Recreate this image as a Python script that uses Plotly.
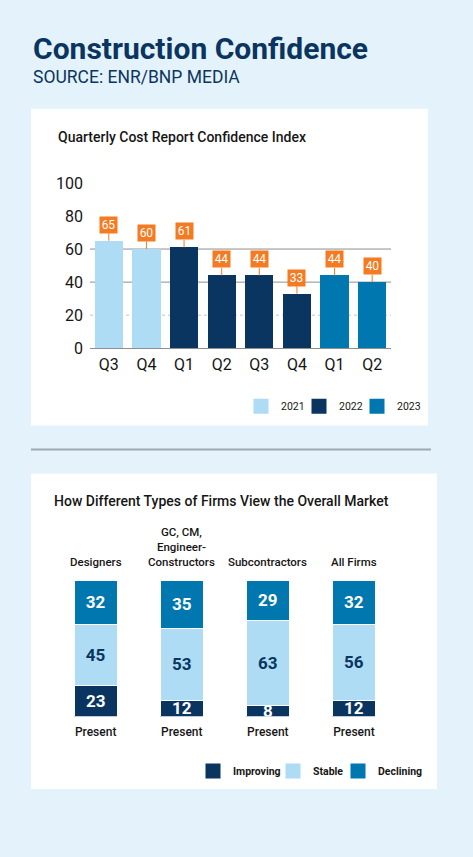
import plotly.graph_objects as go

W, H = 473, 857

# ---------------- data ----------------
quarters = ["Q3", "Q4", "Q1", "Q2", "Q3", "Q4", "Q1", "Q2"]
quarter_years = ["2021", "2021", "2022", "2022", "2022", "2022", "2023", "2023"]
index_values = [65, 60, 61, 44, 44, 33, 44, 40]
year_names = ["2021", "2022", "2023"]
y_ticks = [0, 20, 40, 60, 80, 100]

firm_types = ["Designers", "GC, CM,<br>Engineer-<br>Constructors", "Subcontractors", "All Firms"]
period_labels = ["Present", "Present", "Present", "Present"]
improving = [23, 12, 8, 12]
stable = [45, 53, 63, 56]
declining = [32, 35, 29, 32]
outlook_names = ["Improving", "Stable", "Declining"]

# ---------------- style ----------------
BG = "#E4F3FB"
NAVY = "#0B3561"
LIGHT = "#AEDCF4"
MID = "#0077AE"
ORANGE = "#F47B22"
FONT = "Roboto, 'Open Sans', sans-serif"
year_colors = {"2021": LIGHT, "2022": NAVY, "2023": MID}
outlook_colors = {"Improving": NAVY, "Stable": LIGHT, "Declining": MID}
outlook_text = {"Improving": "white", "Stable": NAVY, "Declining": "white"}
# one legend per entry so each key can be placed on its own (left edge in px)
year_legends = {"2021": ("legend", 241), "2022": ("legend3", 299), "2023": ("legend4", 357)}
outlook_legends = {"Improving": ("legend2", 193), "Stable": ("legend5", 273), "Declining": ("legend6", 338)}

# vertical calibration of the captured page
V_SCALE, V_OFF = 0.976, 9.4


def px_x(x):
    return x / W


def px_y(y):
    return 1 - ((y - V_OFF) / V_SCALE) / H


fig = go.Figure()

# ---- chart 1: quarterly index ----
for yr in year_names:
    idx = [i for i, q in enumerate(quarter_years) if q == yr]
    fig.add_trace(go.Bar(
        x=idx, y=[index_values[i] for i in idx], name=yr, width=0.75,
        marker=dict(color=year_colors[yr], line=dict(width=0)),
        xaxis="x", yaxis="y", showlegend=False, hoverinfo="skip",
    ))
    fig.add_trace(go.Scatter(
        x=[None], y=[None], mode="markers", name=yr,
        marker=dict(symbol="square", size=15, color=year_colors[yr], line=dict(width=0)),
        xaxis="x", yaxis="y", legend=year_legends[yr][0],
    ))

# ---- chart 2: firm outlook ----
series = {"Improving": improving, "Stable": stable, "Declining": declining}
for name in outlook_names:
    vals = series[name]
    fig.add_trace(go.Bar(
        x=list(range(len(firm_types))), y=vals, name=name, width=0.5,
        marker=dict(color=outlook_colors[name], line=dict(width=1, color="white")),
        text=[str(v) for v in vals], textposition="inside", insidetextanchor="middle",
        constraintext="none", textangle=0,
        textfont=dict(color=outlook_text[name], size=17, family=FONT, weight="bold"),
        xaxis="x2", yaxis="y2", showlegend=False, hoverinfo="skip",
    ))
    fig.add_trace(go.Scatter(
        x=[None], y=[None], mode="markers", name=name,
        marker=dict(symbol="square", size=15, color=outlook_colors[name], line=dict(width=0)),
        xaxis="x2", yaxis="y2", legend=outlook_legends[name][0],
    ))

shapes = [
    dict(type="rect", xref="paper", yref="paper", x0=px_x(31), x1=px_x(428),
         y0=px_y(425), y1=px_y(109), fillcolor="white", line=dict(width=0), layer="below"),
    dict(type="rect", xref="paper", yref="paper", x0=px_x(31), x1=px_x(437),
         y0=px_y(788), y1=px_y(473), fillcolor="white", line=dict(width=0), layer="below"),
    dict(type="line", xref="paper", yref="paper", x0=px_x(31), x1=px_x(431),
         y0=px_y(449), y1=px_y(449), line=dict(color="#9DA8B2", width=2)),
]
grid_values = [20, 40, 60]
for g in grid_values:
    shapes.append(dict(type="line", xref="x domain", yref="y", x0=0, x1=1, y0=g, y1=g,
                       line=dict(color="#C4C4C4" if g == 20 else "#8E8E8E", width=1,
                                 dash="dot" if g == 20 else "solid"),
                       layer="below"))

annotations = [
    dict(text="<b>Construction Confidence</b>", xref="paper", yref="paper",
         x=px_x(31), y=px_y(49), xanchor="left", yanchor="middle", showarrow=False,
         font=dict(size=30, color=NAVY, family=FONT)),
    dict(text="SOURCE: ENR/BNP MEDIA", xref="paper", yref="paper",
         x=px_x(31), y=px_y(77), xanchor="left", yanchor="middle", showarrow=False,
         font=dict(size=17.5, color=NAVY, family=FONT)),
    dict(text="Quarterly Cost Report Confidence Index", xref="paper", yref="paper",
         x=px_x(56), y=px_y(137.5), xanchor="left", yanchor="middle", showarrow=False,
         font=dict(size=14, color="#161616", family=FONT, weight=500)),
    dict(text="How Different Types of Firms View the Overall Market", xref="paper", yref="paper",
         x=px_x(52), y=px_y(500.5), xanchor="left", yanchor="middle", showarrow=False,
         font=dict(size=14, color="#161616", family=FONT, weight=500)),
]
for i, v in enumerate(index_values):
    annotations.append(dict(
        x=i, y=v, xref="x", yref="y", text=str(v), showarrow=True, arrowhead=0,
        arrowwidth=1, arrowcolor=ORANGE, ax=0, ay=-16, standoff=0,
        bgcolor=ORANGE, width=15, height=14, borderpad=1,
        font=dict(color="white", size=12, family=FONT)))
for i, name in enumerate(firm_types):
    annotations.append(dict(
        x=i, y=1, xref="x2", yref="y2 domain", text=name, showarrow=False,
        xanchor="center", yanchor="bottom", yshift=10,
        font=dict(size=11.5, color="#161616", family=FONT, weight=500)))

layout_legends = {}
for yr in year_names:
    key, left = year_legends[yr]
    layout_legends[key] = dict(
        orientation="h", x=px_x(left), y=px_y(406), xanchor="left", yanchor="middle",
        bgcolor="rgba(0,0,0,0)", font=dict(size=10.5, color="#161616", family=FONT),
        itemclick=False, itemdoubleclick=False)
for name in outlook_names:
    key, left = outlook_legends[name]
    layout_legends[key] = dict(
        orientation="h", x=px_x(left), y=px_y(770), xanchor="left", yanchor="middle",
        bgcolor="rgba(0,0,0,0)", font=dict(size=10.5, color="#161616", family=FONT, weight="bold"),
        itemclick=False, itemdoubleclick=False)

fig.update_layout(
    width=W, height=H, autosize=False, margin=dict(l=0, r=0, t=0, b=0),
    paper_bgcolor=BG, plot_bgcolor="rgba(0,0,0,0)",
    font=dict(family=FONT, color="#161616"),
    barmode="stack",
    shapes=shapes, annotations=annotations,
    xaxis=dict(domain=[px_x(90), px_x(391)], range=[-0.5, 7.5], tickvals=list(range(8)),
               ticktext=quarters, showgrid=False, zeroline=False, showline=True,
               linecolor="#8E8E8E", linewidth=1, ticks="", ticklabelstandoff=2,
               tickfont=dict(size=16, color="#161616"), fixedrange=True, anchor="y"),
    yaxis=dict(domain=[px_y(348), px_y(183)], range=[0, 100], tickvals=y_ticks,
               showgrid=False, zeroline=False, showline=False, ticks="", anchor="x",
               ticklabelstandoff=6, tickfont=dict(size=16, color="#161616"), fixedrange=True),
    xaxis2=dict(domain=[px_x(52.6), px_x(397)], range=[-0.5, 3.5], anchor="y2",
                tickvals=list(range(len(firm_types))), ticktext=period_labels,
                showgrid=False, zeroline=False, showline=False, ticks="",
                ticklabelstandoff=6,
                tickfont=dict(size=12, color="#161616", family=FONT, weight=500),
                fixedrange=True),
    yaxis2=dict(domain=[px_y(715.7), px_y(580)], range=[0, 100], visible=False,
                anchor="x2", fixedrange=True),
    **layout_legends,
)

fig.write_html("out.html",
               config={"displayModeBar": False, "responsive": False},
               post_script="document.body.style.margin='0';document.body.style.overflow='hidden';")
